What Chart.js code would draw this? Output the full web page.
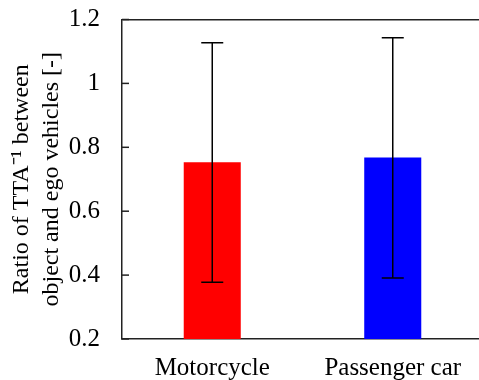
<!DOCTYPE html>
<html>
<head>
<meta charset="utf-8">
<script src="https://cdn.jsdelivr.net/npm/chart.js@4"></script>
<style>
  html, body { margin: 0; padding: 0; background: #fff; overflow: hidden; }
  #wrap { width: 484px; height: 380px; }
</style>
</head>
<body>
<div id="wrap"><canvas id="myChart"></canvas></div>
<script>
var categories = ["Motorcycle", "Passenger car"];
var meanValues = [0.753, 0.768];
var errLow = [0.378, 0.391];
var errHigh = [1.127, 1.143];
var barColors = ["#ff0000", "#0000ff"];
var yTicks = [0.2, 0.4, 0.6, 0.8, 1, 1.2];

var serif = "'Liberation Serif', 'Times New Roman', serif";

// error bars with caps, drawn through the y scale
var errorBars = {
    id: "errorBars",
    afterDatasetsDraw: function (chart) {
        var ctx = chart.ctx;
        var y = chart.scales.y;
        var meta = chart.getDatasetMeta(0);
        ctx.save();
        ctx.strokeStyle = "#000";
        ctx.lineWidth = 1.5;
        meta.data.forEach(function (bar, i) {
            var yl = y.getPixelForValue(errLow[i]);
            var yh = y.getPixelForValue(errHigh[i]);
            var cap = 11;
            ctx.beginPath();
            ctx.moveTo(bar.x, yl);
            ctx.lineTo(bar.x, yh);
            ctx.moveTo(bar.x - cap, yh);
            ctx.lineTo(bar.x + cap, yh);
            ctx.moveTo(bar.x - cap, yl);
            ctx.lineTo(bar.x + cap, yl);
            ctx.stroke();
        });
        ctx.restore();
    },
};

// inward tick marks on the y axis
var innerTicks = {
    id: "innerTicks",
    afterDraw: function (chart) {
        var ctx = chart.ctx;
        var y = chart.scales.y;
        var left = chart.chartArea.left;
        ctx.save();
        ctx.strokeStyle = "#222";
        ctx.lineWidth = 1.5;
        yTicks.forEach(function (v) {
            var py = y.getPixelForValue(v);
            ctx.beginPath();
            ctx.moveTo(left, py);
            ctx.lineTo(left + 7, py);
            ctx.stroke();
        });
        ctx.restore();
    },
};

var ctx = document.getElementById("myChart").getContext("2d");
var myChart = new Chart(ctx, {
    type: "bar",
    data: {
        labels: categories,
        datasets: [
            {
                data: meanValues,
                backgroundColor: barColors,
                barPercentage: 0.316,
                categoryPercentage: 1,
            },
        ],
    },
    options: {
        responsive: true,
        maintainAspectRatio: false,
        animation: false,
        layout: { padding: { top: 19.5, right: 1, left: 0, bottom: 0 } },
        plugins: {
            legend: { display: false },
            tooltip: { enabled: false },
        },
        scales: {
            x: {
                grid: { display: true, drawOnChartArea: false, drawTicks: false },
                border: { display: true, color: "#222", width: 1.5 },
                ticks: {
                    color: "#000",
                    padding: 14,
                    font: { family: serif, size: 25 },
                },
                afterFit: function (scale) {
                    scale.height = 41;
                    scale.paddingLeft = 0;
                    scale.paddingRight = 0;
                },
            },
            y: {
                min: 0.2,
                max: 1.2,
                afterBuildTicks: function (scale) {
                    scale.ticks = yTicks.map(function (v) { return { value: v }; });
                },
                grid: {
                    drawTicks: false,
                    lineWidth: 1.5,
                    color: function (c) {
                        return c.tick && c.tick.value === 1.2 ? "#222" : "rgba(0,0,0,0)";
                    },
                },
                border: { display: true, color: "#222", width: 1.5 },
                ticks: {
                    color: "#000",
                    padding: 22,
                    font: { family: serif, size: 25 },
                    callback: function (v) { return String(v); },
                },
                title: {
                    display: true,
                    text: ["Ratio of TTA\u207B\u00B9 between", "object and ego vehicles [-]"],
                    color: "#000",
                    padding: { top: 7, bottom: 0 },
                    font: { family: serif, size: 24, lineHeight: 1.25 },
                },
                afterFit: function (scale) {
                    scale.width = 122;
                    scale.paddingTop = 0;
                    scale.paddingBottom = 0;
                },
            },
        },
    },
    plugins: [errorBars, innerTicks],
});
</script>
</body>
</html>
